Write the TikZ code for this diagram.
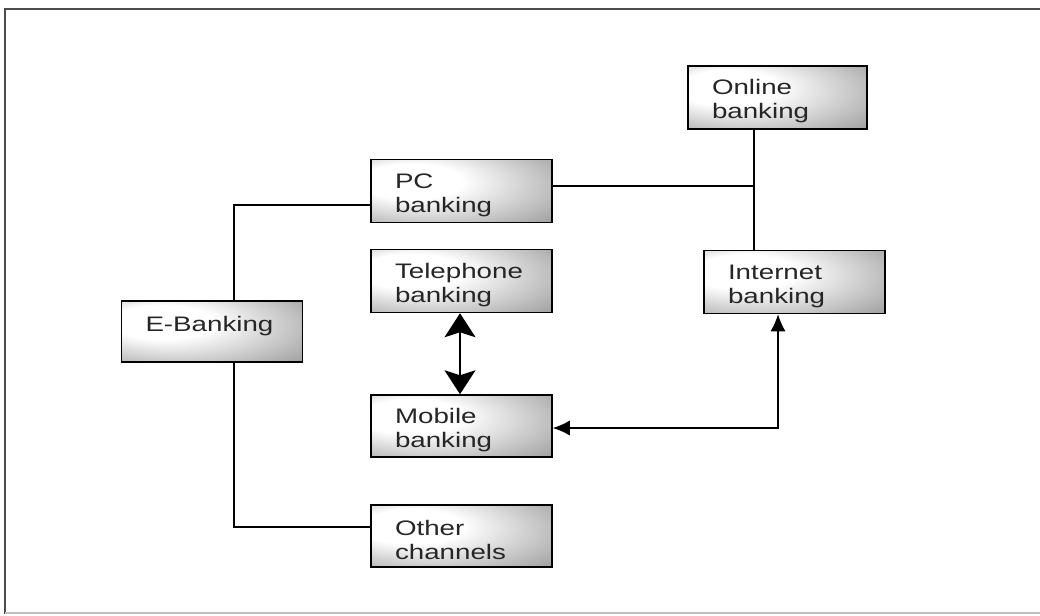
\documentclass[tikz,border=0pt]{standalone}
\usepackage{fontspec}
\setmainfont{Liberation Sans}[FakeStretch=1.32]
\usetikzlibrary{arrows.meta}
\pgfdeclareradialshading{boxshade}{\pgfpoint{-18bp}{10bp}}{color(0bp)=(white);color(14bp)=(white);color(42bp)=(black!38);color(60bp)=(black!55)}
\tikzset{
  bank/.style={draw=black, line width=1.5pt, shade, shading=boxshade, rectangle,
    minimum width=181pt, minimum height=63pt, text width=133pt, inner xsep=24pt,
    inner ysep=0pt, align=left, font=\fontsize{21}{24}\selectfont, text=black!85},
  link/.style={line width=1.3pt, draw=black},
  bigarrow/.style={line width=1.6pt, {Stealth[length=24pt,width=31pt,inset=5pt]}-{Stealth[length=24pt,width=31pt,inset=5pt]}},
  smallarrow/.style={line width=1.3pt, {Latex[length=17pt,width=15pt]}-{Latex[length=17pt,width=15pt]}}
}
\newcommand{\topstrut}{\rule{0pt}{23pt}}
\begin{document}
\begin{tikzpicture}[x=1pt,y=-1pt]
\useasboundingbox (0,0) rectangle (1040,615);
% frame
\draw[line width=2.5pt, black!70] (1040,9) -- (5,9) -- (5,614);
\draw[line width=1.5pt, black!25] (5,613) -- (1040,613);
% boxes
\node[bank, minimum width=179pt, text width=131pt] (online) at (777.5,97.5) {\topstrut Online\\banking};
\node[bank] (pc) at (461.5,191) {\topstrut PC\\banking};
\node[bank] (tel) at (461.5,281) {\topstrut Telephone\\banking};
\node[bank] (inet) at (794.5,282) {\topstrut Internet\\banking};
\node[bank, minimum height=61pt] (eb) at (212,331.5) {\topstrut E-Banking\\\mbox{}};
\node[bank, minimum height=62pt] (mob) at (461.5,426) {\topstrut Mobile\\banking};
\node[bank, minimum height=62pt] (oth) at (461.5,536) {\topstrut Other\\channels};
% connectors
\coordinate (ebN) at ([xshift=22pt]eb.north);
\coordinate (ebS) at ([xshift=22pt]eb.south);
\coordinate (pcW) at ([yshift=-14pt]pc.west);
\coordinate (othW) at ([yshift=9pt]oth.west);
\draw[link] (ebN) |- (pcW);
\draw[link] (ebS) |- (othW);
\coordinate (oS) at ([xshift=-23.5pt]online.south);
\coordinate (pcE) at ([yshift=5pt]pc.east);
\draw[link] (pcE) -- (pcE -| oS);
\draw[link] (oS) -- (oS |- inet.north);
\draw[bigarrow] ([xshift=-1.5pt]tel.south) -- ([xshift=-1.5pt]mob.north);
\coordinate (mE) at ([yshift=-2pt]mob.east);
\coordinate (iS) at ([xshift=-16.5pt]inet.south);
\draw[smallarrow] (mE) -| (iS);
\end{tikzpicture}
\end{document}
